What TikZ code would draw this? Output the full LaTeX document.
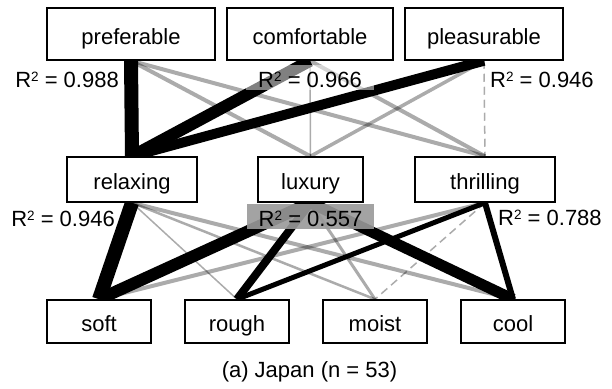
\documentclass[tikz,border=0pt]{standalone}
\usepackage{fontspec}
\setmainfont{Liberation Sans}
\usetikzlibrary{calc,backgrounds}
% squared sign sized for the 22pt label text
\newcommand{\sqtwo}{\raisebox{6.5pt}{\fontsize{13.5}{14}\selectfont 2}}
\begin{document}
\begin{tikzpicture}[x=1pt,y=-1pt,
  font=\fontsize{22}{26}\selectfont,
  box/.style={draw=black, line width=1.5pt, fill=white, inner sep=0pt,
              text height=20pt, text depth=0pt},
  weak/.style={draw=black, draw opacity=0.33},
  strong/.style={draw=black},
  negpath/.style={weak, dash pattern=on 8pt off 5pt},
  rtwo/.style={inner sep=0pt, anchor=base},
  rtwobg/.style={inner xsep=12pt, inner ysep=2.5pt, text height=20pt,
                 text depth=0pt, anchor=base}
]
\useasboundingbox (0,0) rectangle (612,388);

% top layer
\node[box, minimum width=168pt, minimum height=52pt] (pref)  at (131,34) {preferable};
\node[box, minimum width=166pt, minimum height=52pt] (comf)  at (310,34) {comfortable};
\node[box, minimum width=158pt, minimum height=52pt] (pleas) at (484,34) {pleasurable};
% middle layer
\node[box, minimum width=130pt, minimum height=45pt] (relax) at (132,179.5) {relaxing};
\node[box, minimum width=105pt, minimum height=45pt] (lux)   at (310.5,179.5) {luxury};
\node[box, minimum width=140pt, minimum height=45pt] (thr)   at (485,179.5) {thrilling};
% bottom layer
\node[box, minimum width=104pt, minimum height=43pt] (soft)  at (99,321.5) {soft};
\node[box, minimum width=104pt, minimum height=43pt] (rough) at (237,321.5) {rough};
\node[box, minimum width=104pt, minimum height=43pt] (moist) at (375,321.5) {moist};
\node[box, minimum width=104pt, minimum height=43pt] (cool)  at (513,321.5) {cool};

\begin{scope}[on background layer]
  % weak paths, top to middle
  \draw[weak, line width=4pt]   (pref.south)  -- (lux.north);
  \draw[weak, line width=4pt]   (pref.south)  -- (thr.north);
  \draw[weak, line width=1.5pt] (comf.south)  -- (lux.north);
  \draw[weak, line width=4pt]   (comf.south)  -- (thr.north);
  \draw[weak, line width=3.5pt] (pleas.south) -- (lux.north);
  \draw[negpath, line width=1.5pt] (pleas.south) -- (thr.north);
  % weak paths, middle to bottom
  \draw[weak, line width=1.5pt] (relax.south) -- (rough.north);
  \draw[weak, line width=2.5pt] (relax.south) -- (moist.north);
  \draw[weak, line width=4pt]   (relax.south) -- (cool.north);
  \draw[weak, line width=3pt]   (lux.south)   -- (moist.north);
  \draw[weak, line width=4pt]   (thr.south)   -- (soft.north);
  \draw[negpath, line width=1.5pt] (thr.south) -- (moist.north);
  % strong paths, top to middle
  \draw[strong, line width=14pt] (pref.south)  -- (relax.north);
  \draw[strong, line width=12pt] (comf.south)  -- (relax.north);
  \draw[strong, line width=10pt] (pleas.south) -- (relax.north);
  % strong paths, middle to bottom
  \draw[strong, line width=14pt] (relax.south) -- (soft.north);
  \draw[strong, line width=12pt] (lux.south)   -- (soft.north);
  \draw[strong, line width=8pt]  (lux.south)   -- (rough.north);
  \draw[strong, line width=11pt] (lux.south)   -- (cool.north);
  \draw[strong, line width=5pt]  (thr.south)   -- (rough.north);
  \draw[strong, line width=6pt]  (thr.south)   -- (cool.north);
\end{scope}

% explained variance
\node[rtwo, anchor=base east] (r2pref) at ($(pref.south)+(-12,27)$) {R\sqtwo\ = 0.988};
\node[rtwobg, fill=white, fill opacity=0.5, text opacity=1] (r2comf) at ($(comf.south)+(0,27)$) {R\sqtwo\ = 0.966};
\node[rtwo, anchor=base west] (r2pleas) at ($(pleas.south)+(6,27)$) {R\sqtwo\ = 0.946};
\node[rtwo, anchor=base east] (r2relax) at ($(relax.south)+(-17,24)$) {R\sqtwo\ = 0.946};
\node[rtwobg, fill=black!40, fill opacity=0.9, text opacity=1] (r2lux) at ($(lux.south)+(0,24)$) {R\sqtwo\ = 0.557};
\node[rtwo, anchor=base west] (r2thr) at ($(thr.south)+(13,23)$) {R\sqtwo\ = 0.788};

\node[anchor=base, inner sep=0pt] (caption) at (309.5,377) {(a) Japan (n = 53)};
\end{tikzpicture}
\end{document}
